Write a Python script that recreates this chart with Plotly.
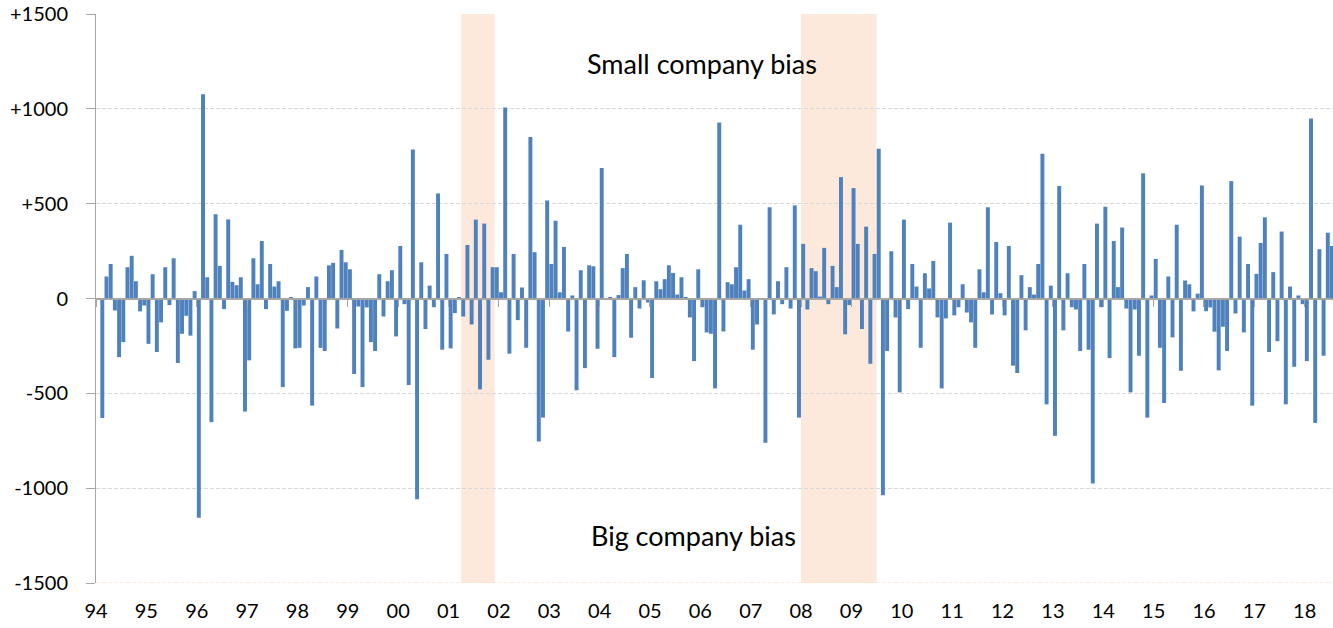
import numpy as np
import pandas as pd
import plotly.graph_objects as go

# ---------------- data ----------------
first_month = "1994-02"
values = [
    -630, 116, 182, -63, -309, -230, 165, 225, 91, -68, -37, -239,
    128, -282, -126, 165, -35, 212, -340, -186, -91, -196, 39, -1156,
    1077, 112, -652, 444, 172, -56, 417, 88, 70, 112, -596, -326,
    212, 75, 303, -56, 182, 63, 91, -467, -65, 7, -263, -260,
    -37, 60, -565, 116, -260, -277, 175, 188, -158, 256, 191, 154,
    -398, -42, -467, -47, -230, -277, 128, -95, 91, 149, -200, 277,
    -30, -456, 786, -1059, 191, -161, 68, -46, 554, -270, 235, -263,
    -77, 7, -95, 282, -137, 416, -479, 395, -323, 165, 165, 33,
    1007, -291, 235, -114, 58, -260, 852, 244, -754, -628, 517, 182,
    410, 33, 272, -174, 16, -484, 149, -367, 175, 170, -265, 688,
    -2, 5, -309, 18, 160, 235, -207, 60, -53, 96, -21, -419,
    91, 49, 102, 175, 135, 21, 112, 7, -100, -330, 154, -46,
    -179, -186, -474, 928, -174, 86, 75, 165, 389, 42, 102, -270,
    -137, 0, -761, 481, -84, 91, -30, 165, -53, 491, -628, 288,
    -58, 160, 144, 10, 267, -30, 172, 60, 640, -189, -35, 582,
    288, -161, 379, -344, 235, 789, -1038, -277, 249, -100, -495, 416,
    -56, 182, 63, -260, 133, 53, 198, -100, -474, -105, 400, -89,
    -46, 75, -74, -126, -260, 154, 33, 481, -84, 298, 28, -89,
    277, -354, -393, 123, -168, 60, 21, 182, 763, -558, 68, -724,
    593, -168, 133, -46, -58, -277, 182, -270, -975, 395, -46, 484,
    -314, 303, 60, 374, -53, -495, -58, -302, 660, -628, 16, 209,
    -260, -551, 116, -205, 389, -381, 95, 75, -68, 26, 596, -67,
    -47, -175, -379, -149, -277, 619, -79, 326, -179, 182, -565, 130,
    293, 428, -282, 139, -225, 353, -558, 63, -360, 16, -30, -330,
    949, -656, 260, -302, 347, 277,
]
year_labels = [f"{y % 100:02d}" for y in range(1994, 2019)]
recession_start = ["2001-04", "2008-01"]
recession_end = ["2001-11", "2009-06"]
y_ticks = [-1500, -1000, -500, 0, 500, 1000, 1500]
y_ticktext = ["-1500", "-1000", "-500", "0", "+500", "+1000", "+1500"]
label_top = "Small company bias"
label_bottom = "Big company bias"

# ---------------- derived ----------------
start = pd.Period(first_month, freq="M")
x = np.arange(len(values))


def month_index(p):
    return (pd.Period(p, freq="M") - start).n


tick_pos = [month_index(f"{1994 + k}-01") - 0.5 for k in range(len(year_labels))]
x_range = [tick_pos[0], 293.24]

BLUE = "#4F81BD"
GREY = "#A6A6A6"
PEACH = "#FDE9DB"
FONT = "Lato"

fig = go.Figure()
fig.add_trace(go.Bar(
    x=x, y=values, marker=dict(color=BLUE, line=dict(width=0)),
    hoverinfo="skip", showlegend=False,
))
# invisible helper trace for the zero-line axis
fig.add_trace(go.Scatter(
    x=[x_range[0]], y=[0], mode="markers", marker=dict(opacity=0),
    xaxis="x2", hoverinfo="skip", showlegend=False,
))

shapes = []
for s, e in zip(recession_start, recession_end):
    shapes.append(dict(
        type="rect", xref="x", yref="paper",
        x0=month_index(s) - 0.5, x1=month_index(e) + 0.5, y0=0, y1=1,
        fillcolor=PEACH, line=dict(width=0), layer="between",
    ))
shapes.append(dict(
    type="line", xref="paper", yref="y", x0=0, x1=1, y0=-1500, y1=-1500,
    line=dict(color="#F8DCC8", width=1, dash="4px,2px"), layer="between",
))

fig.update_layout(
    width=1333, height=628,
    margin=dict(l=96, r=0, t=14, b=45),
    paper_bgcolor="white", plot_bgcolor="white",
    bargap=0.06,
    font=dict(family=FONT, size=20, color="#000000"),
    shapes=shapes,
    xaxis=dict(
        range=x_range, tickvals=tick_pos, ticktext=year_labels,
        showgrid=False, zeroline=False, showline=False, ticks="",
        ticklabelstandoff=14, tickfont=dict(family=FONT, size=20, color="#000000"),
    ),
    xaxis2=dict(
        overlaying="x", anchor="free", position=0.5, side="bottom",
        range=x_range, tickvals=tick_pos, showticklabels=False,
        showgrid=False, zeroline=False,
        showline=True, linecolor=GREY, linewidth=2,
        ticks="outside", ticklen=7, tickwidth=1, tickcolor=GREY,
        layer="above traces",
    ),
    yaxis=dict(
        range=[-1500, 1500], tickvals=y_ticks, ticktext=y_ticktext,
        showgrid=True, gridcolor="#D9D9D9", gridwidth=1, griddash="4px,2px",
        zeroline=False, showline=True, linecolor=GREY, linewidth=1,
        ticks="outside", ticklen=9, tickcolor=GREY, tickwidth=1,
        ticklabelstandoff=14, tickfont=dict(family=FONT, size=20, color="#000000"),
    ),
    annotations=[
        dict(text=label_top, xref="paper", yref="y", x=0.4899, y=1240,
             showarrow=False, xanchor="center", yanchor="middle",
             font=dict(family=FONT, size=27, color="#000000")),
        dict(text=label_bottom, xref="paper", yref="y", x=0.4834, y=-1249,
             showarrow=False, xanchor="center", yanchor="middle",
             font=dict(family=FONT, size=27, color="#000000")),
    ],
)

fig.write_html("out.html", config={"displayModeBar": False},
               post_script="document.body.style.margin='0';")
